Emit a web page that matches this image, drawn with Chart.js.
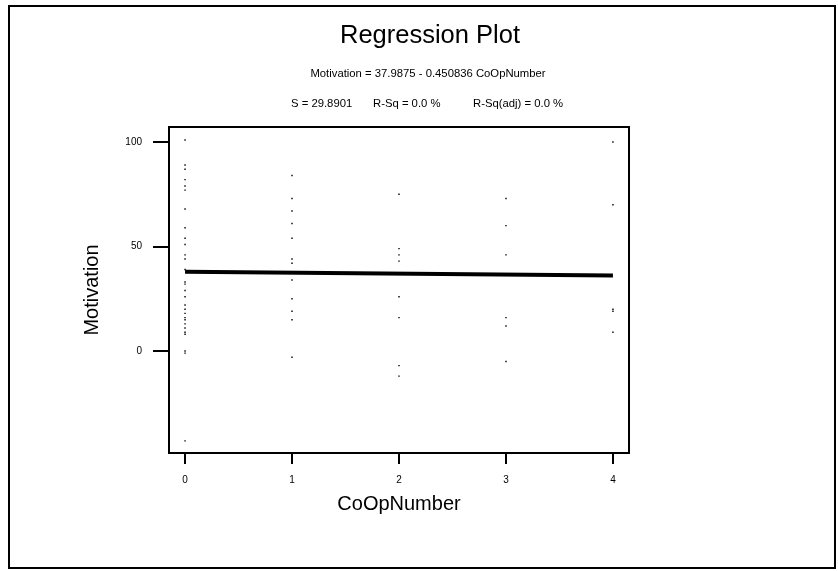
<!DOCTYPE html>
<html>
<head>
<meta charset="utf-8">
<script src="https://cdn.jsdelivr.net/npm/chart.js@4/dist/chart.umd.min.js"></script>
<style>
  html, body { margin: 0; padding: 0; background: #fff; }
  canvas { display: block; }
</style>
</head>
<body>
<canvas id="c" width="838" height="571"></canvas>
<script>
// ---- data ----
const motivationAt0 = [101, 89, 87, 82, 79, 77, 68, 59, 54, 51, 46, 44, 39, 33, 32, 29, 26, 22, 20, 18, 16, 15, 13, 11, 9, 8, 0, -1, -43];
const motivationAt1 = [84, 73, 67, 61, 54, 44, 42, 34, 25, 19, 15, -3];
const motivationAt2 = [75, 49, 46, 43, 26, 16, -7, -12];
const motivationAt3 = [73, 60, 46, 16, 12, -5];
const motivationAt4 = [100, 70, 20, 19, 9];
const coOpGroups = [0, 1, 2, 3, 4];
const fitX = [0, 4];
const fitY = [37.9875, 36.1842];
const xTicks = [0, 1, 2, 3, 4];
const yTicks = [0, 50, 100];

const titleText = 'Regression Plot';
const equationText = 'Motivation = 37.9875 - 0.450836 CoOpNumber';
const statTexts = ['S = 29.8901', 'R-Sq = 0.0 %', 'R-Sq(adj) = 0.0 %'];

const groups = [motivationAt0, motivationAt1, motivationAt2, motivationAt3, motivationAt4];
const scatterPts = [];
groups.forEach((vals, i) => vals.forEach(v => scatterPts.push({ x: coOpGroups[i], y: v })));
const fitPts = fitX.map((x, i) => ({ x: x, y: fitY[i] }));

const FONT = '"Liberation Sans", Arial, Helvetica, sans-serif';

const decor = {
  id: 'decor',
  afterDraw(chart) {
    const ctx = chart.ctx;
    const a = chart.chartArea;
    ctx.save();
    // outer frame
    ctx.strokeStyle = '#000';
    ctx.lineWidth = 2;
    ctx.strokeRect(9, 6, 826, 562);
    // plot frame
    ctx.strokeRect(a.left, a.top, a.right - a.left, a.bottom - a.top);
    // titles
    ctx.fillStyle = '#000';
    ctx.textBaseline = 'alphabetic';
    ctx.textAlign = 'center';
    ctx.font = '25.5px ' + FONT;
    ctx.fillText(titleText, 430, 43);
    ctx.font = '11.3px ' + FONT;
    ctx.fillText(equationText, 428, 77);
    ctx.textAlign = 'left';
    const xs = [291, 373, 473];
    statTexts.forEach((t, i) => ctx.fillText(t, xs[i], 107));
    ctx.restore();
  }
};

new Chart(document.getElementById('c'), {
  type: 'scatter',
  data: {
    datasets: [
      {
        type: 'scatter',
        data: scatterPts,
        pointStyle: 'rect',
        pointRadius: 1.0,
        pointBorderWidth: 0,
        backgroundColor: '#000',
        borderColor: '#000'
      },
      {
        type: 'line',
        data: fitPts,
        borderColor: '#000',
        borderWidth: 4,
        pointRadius: 0,
        fill: false,
        tension: 0
      }
    ]
  },
  options: {
    responsive: false,
    animation: false,
    devicePixelRatio: 1,
    layout: { padding: { left: 80, top: 127, right: 209, bottom: 55 } },
    plugins: { legend: { display: false }, tooltip: { enabled: false }, title: { display: false } },
    scales: {
      x: {
        type: 'linear',
        min: -0.15,
        max: 4.15,
        afterBuildTicks: s => { s.ticks = xTicks.map(v => ({ value: v })); },
        afterFit: s => { s.height = 63; },
        border: { display: false },
        grid: { drawOnChartArea: false, drawTicks: true, tickLength: 11, color: '#000', lineWidth: 2 },
        ticks: { color: '#000', font: { family: FONT, size: 10 }, padding: 10, maxRotation: 0, autoSkip: false },
        title: { display: true, text: 'CoOpNumber', color: '#000', font: { family: FONT, size: 20 }, padding: 0 }
      },
      y: {
        type: 'linear',
        min: -48.8,
        max: 107.2,
        afterBuildTicks: s => { s.ticks = yTicks.map(v => ({ value: v })); },
        afterFit: s => { s.width = 89; },
        border: { display: false },
        grid: { drawOnChartArea: false, drawTicks: true, tickLength: 16, color: '#000', lineWidth: 2 },
        ticks: { color: '#000', font: { family: FONT, size: 10 }, padding: 11, autoSkip: false },
        title: { display: true, text: 'Motivation', color: '#000', font: { family: FONT, size: 20 }, padding: 0 }
      }
    }
  },
  plugins: [decor]
});
</script>
</body>
</html>
